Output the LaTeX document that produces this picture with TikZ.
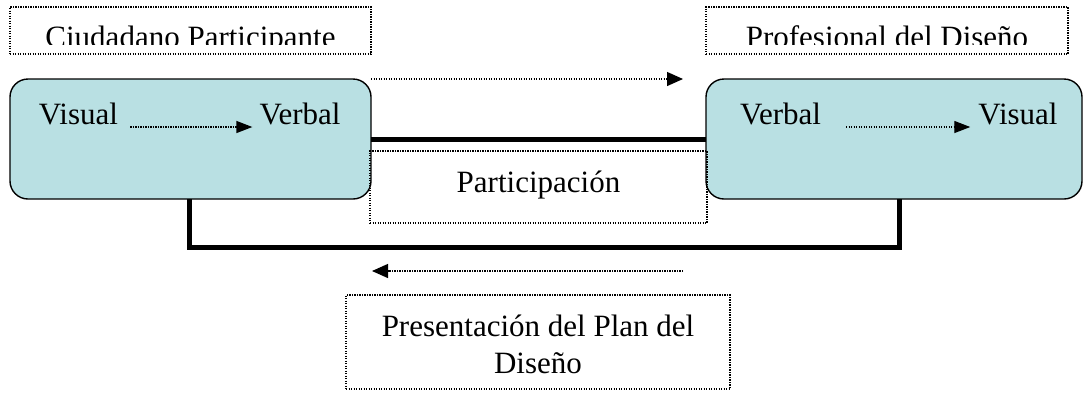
\documentclass[tikz,border=0pt]{standalone}
\usepackage{fontspec}
\setmainfont{Liberation Serif}
\usetikzlibrary{arrows.meta}
\definecolor{boxfill}{HTML}{B9E0E3}
\begin{document}
\begin{tikzpicture}[x=1pt,y=-1pt,
  lbl/.style={font=\fontsize{31}{37}\selectfont, inner sep=0pt, anchor=base},
  dotbox/.style={draw, line width=1.3pt, dash pattern=on 1.3pt off 1.2pt, inner sep=0pt, outer sep=0pt, anchor=north west},
  roundbox/.style={draw, line width=1.4pt, fill=boxfill, rounded corners=18pt, inner sep=0pt, outer sep=0pt, anchor=north west},
  heavyline/.style={line width=5pt},
  dotarrow/.style={line width=1.3pt, dash pattern=on 1.3pt off 1.2pt, -{Triangle[length=16pt,width=14pt]}},
  smallarrow/.style={line width=1.3pt, dash pattern=on 1.3pt off 1.2pt, -{Triangle[length=16pt,width=12pt]}}]
\useasboundingbox (0,0) rectangle (1083,392);

% rounded boxes
\node[roundbox, minimum width=361pt, minimum height=120pt] (L) at (10,79) {};
\node[roundbox, minimum width=376pt, minimum height=120pt] (R) at (706,79) {};

% thick connectors
\draw[heavyline] (L.east) -- (R.east -| R.west);
\draw[heavyline] ([xshift=-1.5pt]L.south) -- ++(0,48) -| ([xshift=5pt]R.south);

% title boxes with clipped text
\begin{scope}
  \clip (10,7) rectangle (371,44);
  \node[lbl] (ct) at (190.5,47) {Ciudadano Participante};
\end{scope}
\begin{scope}
  \clip (706,7) rectangle (1068,44);
  \node[lbl] (pt) at (887,47) {Profesional del Diseño};
\end{scope}
\node[dotbox, minimum width=361pt, minimum height=47pt] (C) at (10,7) {};
\node[dotbox, minimum width=362pt, minimum height=47pt] (P) at (706,7) {};

% texts inside rounded boxes
\node[lbl] (v1) at (78.5,124) {Visual};
\node[lbl] (w1) at (300,124) {Verbal};
\node[lbl] (w2) at (780.5,124) {Verbal};
\node[lbl] (v2) at (1018,124) {Visual};
\draw[smallarrow] ([xshift=12pt,yshift=-3pt]v1.base east) -- ([xshift=-7pt,yshift=-3pt]w1.base west);
\draw[smallarrow] ([xshift=25pt,yshift=-3pt]w2.base east) -- ([xshift=-8pt,yshift=-3pt]v2.base west);

% participation box
\node[dotbox, minimum width=337pt, minimum height=72pt] (PA) at (370,151) {};
\node[lbl] (pat) at (538.5,192) {Participación};

% top and bottom dotted arrows
\coordinate (ta) at (683,79);
\draw[dotarrow] (L.north east) -- (ta);
\coordinate (bs) at (683,271);
\coordinate (be) at (372,271);
\draw[dotarrow] (bs) -- (be);

% presentation box
\node[dotbox, minimum width=384pt, minimum height=94pt] (PR) at (346,295) {};
\node[lbl] (pr1) at (538,336) {Presentación del Plan del};
\node[lbl] (pr2) at (538,373) {Diseño};
\end{tikzpicture}
\end{document}
